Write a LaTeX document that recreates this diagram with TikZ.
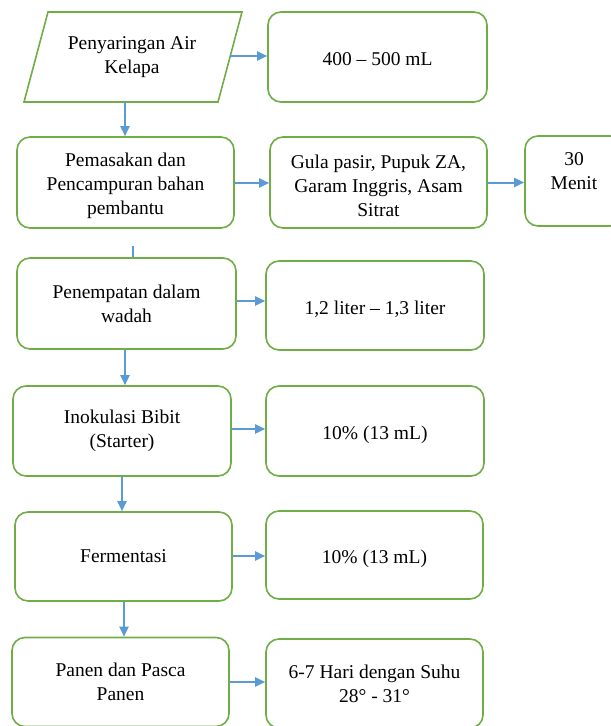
\documentclass[tikz,border=0pt]{standalone}
\usepackage{fontspec}
\setmainfont{Liberation Serif}
\usetikzlibrary{arrows.meta}
\definecolor{boxgreen}{RGB}{112,173,71}
\definecolor{arrblue}{RGB}{91,155,213}
\begin{document}
\begin{tikzpicture}[x=1bp,y=-1bp,
  every node/.style={font=\fontsize{19.5bp}{24bp}\selectfont, align=center, inner sep=0pt},
  rbox/.style={draw=boxgreen, line width=1.6bp, rounded corners=13bp, fill=white},
  oneline/.style={text height=17.5bp, text depth=0bp},
  pgram/.style={draw=boxgreen, line width=1.6bp, line join=miter},
  arr/.style={draw=arrblue, line width=2bp, -{Triangle[length=10bp,width=9bp]}},
  plainline/.style={draw=arrblue, line width=2bp}]
\useasboundingbox (0,0) rectangle (611,726);
\begin{scope}
\clip (0,0) rectangle (611,726);
% parallelogram
\coordinate (p1tl) at (48,12);
\coordinate (p1tr) at (242,12);
\coordinate (p1br) at (218,102);
\coordinate (p1bl) at (24,102);
\draw[pgram] (p1tl) -- (p1tr) -- (p1br) -- (p1bl) -- cycle;
\node (p1) at (132,57) {Penyaringan Air\\Kelapa};
\coordinate (p1e) at (230.3,56);
\coordinate (p1s) at (125,102);
\node[rbox, oneline, minimum width=219bp, minimum height=90bp] (a1) at (377.5,57) {400 – 500 mL};

\node[rbox, minimum width=217bp, minimum height=91bp] (p2) at (125.5,182.5) {\strut\\[-20bp]Pemasakan dan\\Pencampuran bahan\\pembantu};
\node[rbox, minimum width=217bp, minimum height=91bp] (g2) at (378.5,182.5) {\strut\\[-20bp]Gula pasir, Pupuk ZA,\\Garam Inggris, Asam\\Sitrat};
\node[rbox, minimum width=98bp, minimum height=90bp] (m2) at (574,181) {30\\Menit\\[-12bp]\strut};

\node[rbox, minimum width=219bp, minimum height=91bp] (p3) at (126.5,303.5) {Penempatan dalam\\wadah};
\node[rbox, oneline, minimum width=218bp, minimum height=89bp] (a3) at (375,305.5) {1,2 liter – 1,3 liter};

\node[rbox, minimum width=218bp, minimum height=90bp] (p4) at (122,431) {Inokulasi Bibit\\(Starter)};
\node[rbox, oneline, minimum width=218bp, minimum height=90bp] (a4) at (375,431) {10\% (13 mL)};

\node[rbox, minimum width=217bp, minimum height=89bp] (p5) at (123.5,556.5) {Fermentasi};
\node[rbox, oneline, minimum width=217bp, minimum height=88bp] (a5) at (374.5,555) {10\% (13 mL)};

\node[rbox, minimum width=217bp, minimum height=89bp] (p6) at (120.5,682) {Panen dan Pasca\\Panen};
\node[rbox, minimum width=217bp, minimum height=89bp] (a6) at (374.5,683.5) {6-7 Hari dengan Suhu\\28° - 31°};

\coordinate (c23) at (133,246);
\end{scope}

% connectors
\draw[arr] (p1e) -- (p1e -| a1.west);
\draw[arr] (p1s) -- (p1s |- p2.north);
\draw[arr] ([yshift=-0.5bp]p2.east) -- ([yshift=-0.5bp]p2.east -| g2.west);
\draw[arr] (g2.east) -- (g2.east -| m2.west);
\draw[plainline] (c23) -- (c23 |- p3.north);
\draw[arr] ([xshift=-1.5bp]p3.south) -- ([xshift=-1.5bp]p3.south |- p4.north);
\draw[arr] ([yshift=2.5bp]p3.east) -- ([yshift=2.5bp]p3.east -| a3.west);
\draw[arr] ([yshift=2bp]p4.east) -- ([yshift=2bp]p4.east -| a4.west);
\draw[arr] (p4.south) -- (p4.south |- p5.north);
\draw[arr] ([yshift=0.5bp]p5.east) -- ([yshift=0.5bp]p5.east -| a5.west);
\draw[arr] ([xshift=0.5bp]p5.south) -- ([xshift=0.5bp]p5.south |- p6.north);
\draw[arr] (p6.east) -- (p6.east -| a6.west);
\end{tikzpicture}
\end{document}
